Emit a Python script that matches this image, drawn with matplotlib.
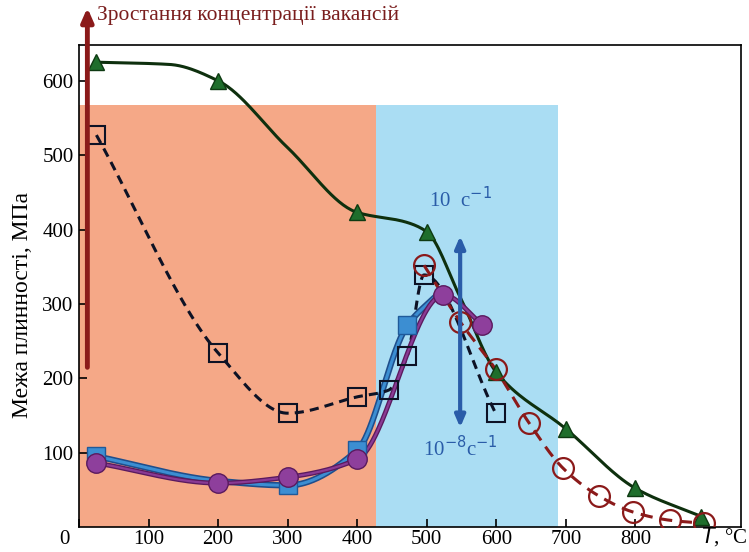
import numpy as np
import matplotlib
matplotlib.use("Agg")
import matplotlib.pyplot as plt
import matplotlib.transforms as mtransforms

plt.rcParams['font.family'] = ['Liberation Serif', 'DejaVu Serif']

# Values
green_T = [25, 200, 400, 500, 600, 700, 800, 895]
green_y = [625, 600, 423, 397, 208, 132, 52, 14]
green_knots_T = [25, 130, 200, 300, 400, 470, 500, 548, 600, 700, 800, 895]
green_knots_y = [625, 622, 600, 510, 423, 410, 397, 309, 208, 132, 52, 14]

black_T = [25, 200, 300, 400, 445, 472, 496, 599]
black_y = [527, 234, 153, 175, 184, 230, 339, 153]

blue_T = [25, 300, 400, 472]
blue_y = [95, 56, 103, 271]
blue_knots_T = [25, 200, 300, 400, 472, 515]
blue_knots_y = [95, 62, 56, 103, 271, 312]

purple_T = [25, 200, 300, 400, 524, 580]
purple_y = [86, 59, 67, 91, 312, 272]

red_T = [496, 548, 599, 647, 696, 747, 797, 850, 899]
red_y = [352, 276, 212, 140, 79, 42, 20, 9, 5]

x_ticks = [0, 100, 200, 300, 400, 500, 600, 700, 800]
y_ticks = [100, 200, 300, 400, 500, 600]


def pchip(x, y, xs):
    x = np.asarray(x, float)
    y = np.asarray(y, float)
    h = np.diff(x)
    d = np.diff(y) / h
    n = len(x)
    m = np.zeros(n)
    m[0], m[-1] = d[0], d[-1]
    for k in range(1, n - 1):
        if d[k - 1] * d[k] <= 0:
            m[k] = 0.0
        else:
            w1 = 2 * h[k] + h[k - 1]
            w2 = h[k] + 2 * h[k - 1]
            m[k] = (w1 + w2) / (w1 / d[k - 1] + w2 / d[k])
    idx = np.clip(np.searchsorted(x, xs) - 1, 0, n - 2)
    t = (xs - x[idx]) / h[idx]
    h00 = 2 * t**3 - 3 * t**2 + 1
    h10 = t**3 - 2 * t**2 + t
    h01 = -2 * t**3 + 3 * t**2
    h11 = t**3 - t**2
    return h00 * y[idx] + h10 * h[idx] * m[idx] + h01 * y[idx + 1] + h11 * h[idx] * m[idx + 1]


def smooth(x, y):
    xs = np.linspace(x[0], x[-1], 300)
    return xs, pchip(x, y, xs)


fig = plt.figure(figsize=(7.49, 5.52), dpi=100)
ax = fig.add_axes([0.1055, 0.0453, 0.884, 0.873])

# background regions
ax.axvspan(0, 427, ymin=0, ymax=567 / 648, color='#F5A887', lw=0, zorder=0)
ax.axvspan(427, 689, ymin=0, ymax=567 / 648, color='#AADDF3', lw=0, zorder=0)

# green
xs, ys = smooth(green_knots_T, green_knots_y)
ax.plot(xs, ys, color='#0E300E', lw=2.2, zorder=3)
ax.plot(green_T, green_y, ls='none', marker='^', ms=12, mfc='#1F6E2C',
        mec='#0E3A12', zorder=6)

# black dashed squares
xs, ys = smooth(black_T, black_y)
ax.plot(xs, ys, color='#0D1225', lw=2.2, ls=(0, (3, 2)), zorder=4)
ax.plot(black_T, black_y, ls='none', marker='s', ms=13, mfc='none',
        mec='#0D1225', mew=1.5, zorder=5)

# blue squares
xs, ys = smooth(blue_knots_T, blue_knots_y)
ax.plot(xs, ys, color='#1F4E8C', lw=4.5, zorder=3)
ax.plot(xs, ys, color='#3C8ED2', lw=2.2, zorder=3)
ax.plot(blue_T, blue_y, ls='none', marker='s', ms=13, mfc='#3C8ED2',
        mec='#1F5A9A', zorder=5)

# purple circles
xs, ys = smooth(purple_T, purple_y)
ax.plot(xs, ys, color='#5A1A5E', lw=3.5, zorder=4)
ax.plot(xs, ys, color='#8A3A94', lw=1.6, zorder=4)
ax.plot(purple_T, purple_y, ls='none', marker='o', ms=14, mfc='#8E3F9C',
        mec='#5A1A5E', zorder=6)

# red dashed circles
xs, ys = smooth(red_T, red_y)
ax.plot(xs, ys, color='#8B1A1A', lw=2.2, ls=(0, (4, 2.5)), zorder=5)
ax.plot(red_T, red_y, ls='none', marker='o', ms=15, mfc='none',
        mec='#8B1A1A', mew=1.6, zorder=6)

# vertical arrow: vacancy concentration
ax.annotate('', xy=(12, 702), xytext=(12, 211), annotation_clip=False,
            arrowprops=dict(arrowstyle='-|>,head_length=0.8,head_width=0.35',
                            color='#8B1A1A', lw=3.5), zorder=7)
ax.text(26, 688, 'Зростання концентрації вакансій', color='#7A1E1E',
        fontsize=15.5, va='center', ha='left', clip_on=False)

# strain rate double arrow
ax.annotate('', xy=(548, 395), xytext=(548, 130),
            arrowprops=dict(arrowstyle='<|-|>,head_length=0.7,head_width=0.3',
                            color='#2A5CA8', lw=3), zorder=7)
ax.text(548, 440, '10  c$^{-1}$', color='#2A5CA8', fontsize=15,
        ha='center', va='center')
ax.text(548, 106, '10$^{-8}$c$^{-1}$', color='#2A5CA8', fontsize=15,
        ha='center', va='center')

ax.set_xlim(0, 952)
ax.set_ylim(0, 648)
ax.set_xticks(x_ticks)
ax.set_yticks(y_ticks)
ax.tick_params(direction='in', length=6, width=1.2, labelsize=15, pad=4)
ax.tick_params(axis='x', pad=2)
for s in ax.spines.values():
    s.set_linewidth(1.2)

# shift the "0" tick label to the left
lab0 = ax.get_xticklabels()[0]
lab0.set_transform(lab0.get_transform() +
                   mtransforms.ScaledTranslation(-15 / 100, 0, fig.dpi_scale_trans))

ax.set_ylabel('Межа плинності, МПа', fontsize=17)
ax.yaxis.set_label_coords(-0.07, 0.46)
fig.text(0.998, 0.008, '$T$, °C', fontsize=15, ha='right', va='bottom')

fig.savefig('out.png', dpi=100)
